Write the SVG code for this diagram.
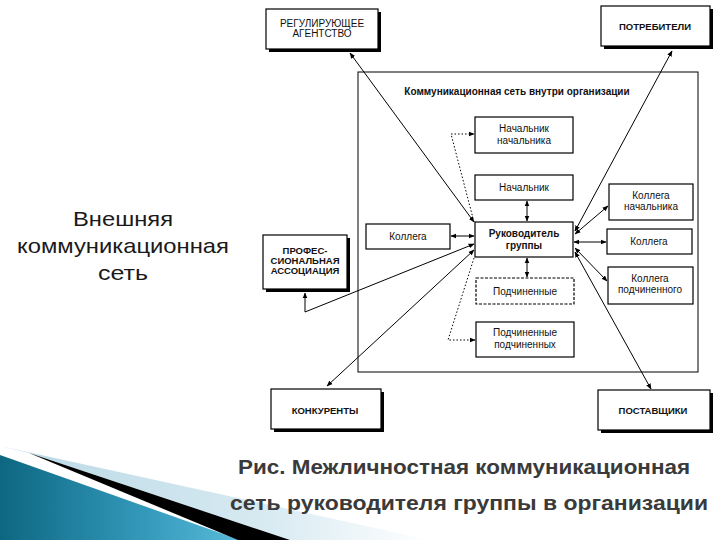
<svg xmlns="http://www.w3.org/2000/svg" width="720" height="540" viewBox="0 0 720 540">
<defs>
<marker id="ah" viewBox="0 0 10 10" refX="9" refY="5" markerWidth="6" markerHeight="6" markerUnits="userSpaceOnUse" orient="auto-start-reverse">
<path d="M0,1 L10,5 L0,9 z" fill="#000"/>
</marker>
<linearGradient id="teal" x1="0" y1="0" x2="1" y2="0">
<stop offset="0" stop-color="#0d6781"/>
<stop offset="0.6" stop-color="#3399bb"/>
<stop offset="1" stop-color="#58bbd9"/>
</linearGradient>
<linearGradient id="pale" x1="0" y1="0" x2="1" y2="0">
<stop offset="0" stop-color="#b9d9e6"/>
<stop offset="0.6" stop-color="#d6e9f1"/>
<stop offset="1" stop-color="#ffffff"/>
</linearGradient>
</defs>
<style>
.box{fill:#fff;stroke:#000;stroke-width:1.2}
.sh{fill:#000}
.t{font-family:"Liberation Sans",Arial,sans-serif;font-size:10px;fill:#111;text-anchor:middle}
.caps{font-size:9.5px;font-weight:bold}
.b{font-weight:bold}
.c{fill:none;stroke:#000;stroke-width:1}
.d{stroke-dasharray:1.5 2}
.big{font-family:"Liberation Sans",Arial,sans-serif;fill:#1a1a1a;text-anchor:middle}
.cap{font-family:"Liberation Sans",Arial,sans-serif;font-weight:bold;fill:#3a3a3a;text-anchor:middle}
</style>
<rect width="720" height="540" fill="#fff"/>

<g id="decoration">
<polygon points="0,446 29,453 290,540 430,540" fill="url(#pale)"/>
<polygon points="0,455 240,540 0,540" fill="url(#teal)"/>
<polygon points="29,453 290,540 238,540" fill="#000"/>
</g>

<g id="frame">
<rect x="358" y="72" width="340" height="300" fill="none" stroke="#000" stroke-width="1"/>
<text class="t b" x="517" y="95" font-size="9.5">Коммуникационная сеть внутри организации</text>
</g>

<g id="regulator">
<rect class="sh" x="269" y="12" width="112" height="40"/>
<rect class="box" x="266" y="9" width="112" height="40"/>
<text class="t" x="322" y="27" font-size="9.5">РЕГУЛИРУЮЩЕЕ</text>
<text class="t" x="322" y="37" font-size="9.5">АГЕНТСТВО</text>
</g>
<g id="consumers">
<rect class="sh" x="604" y="9" width="109" height="40"/>
<rect class="box" x="601" y="6" width="109" height="40"/>
<text class="t caps" x="655" y="30">ПОТРЕБИТЕЛИ</text>
</g>
<g id="association">
<rect class="sh" x="266" y="238" width="84" height="54"/>
<rect class="box" x="263" y="235" width="84" height="54"/>
<text class="t caps" x="305" y="254">ПРОФЕС-</text>
<text class="t caps" x="305" y="264">СИОНАЛЬНАЯ</text>
<text class="t caps" x="305" y="274">АССОЦИАЦИЯ</text>
</g>
<g id="competitors">
<rect class="sh" x="274" y="392" width="110" height="40"/>
<rect class="box" x="271" y="389" width="110" height="40"/>
<text class="t caps" x="325" y="414">КОНКУРЕНТЫ</text>
</g>
<g id="suppliers">
<rect class="sh" x="601" y="393" width="112" height="40"/>
<rect class="box" x="598" y="390" width="112" height="40"/>
<text class="t caps" x="653" y="414">ПОСТАВЩИКИ</text>
</g>

<g id="boss-boss">
<rect class="box" x="475" y="117" width="98" height="36"/>
<text class="t" x="524" y="132">Начальник</text>
<text class="t" x="524" y="144">начальника</text>
</g>
<g id="boss">
<rect class="box" x="475" y="175" width="98" height="25"/>
<text class="t" x="524" y="191">Начальник</text>
</g>
<g id="leader">
<rect class="box" x="475" y="222" width="98" height="35"/>
<text class="t b" x="524" y="237">Руководитель</text>
<text class="t b" x="524" y="249">группы</text>
</g>
<g id="subordinates">
<rect class="box" x="476" y="278" width="98" height="26" stroke-dasharray="3 1.5"/>
<text class="t" x="525" y="295">Подчиненные</text>
</g>
<g id="sub-subordinates">
<rect class="box" x="476" y="322" width="98" height="35"/>
<text class="t" x="525" y="336">Подчиненные</text>
<text class="t" x="525" y="348">подчиненных</text>
</g>
<g id="colleague-left">
<rect class="box" x="366" y="224" width="84" height="25"/>
<text class="t" x="408" y="240">Коллега</text>
</g>
<g id="colleague-boss">
<rect class="box" x="609" y="184" width="84" height="36"/>
<text class="t" x="651" y="199">Коллега</text>
<text class="t" x="651" y="210">начальника</text>
</g>
<g id="colleague-right">
<rect class="box" x="607" y="229" width="85" height="25"/>
<text class="t" x="649" y="245">Коллега</text>
</g>
<g id="colleague-sub">
<rect class="box" x="608" y="267" width="85" height="37"/>
<text class="t" x="650" y="282">Коллега</text>
<text class="t" x="650" y="293">подчиненного</text>
</g>

<g id="connectors">
<path class="c" d="M350,53 L474,222" marker-start="url(#ah)" marker-end="url(#ah)"/>
<path class="c" d="M672,51 L575,231" marker-start="url(#ah)" marker-end="url(#ah)"/>
<path class="c" d="M305,293 L305,312 L474,244" marker-start="url(#ah)" marker-end="url(#ah)"/>
<path class="c" d="M474,250 L327,386" marker-start="url(#ah)" marker-end="url(#ah)"/>
<path class="c" d="M575,252 L651,389" marker-start="url(#ah)" marker-end="url(#ah)"/>
<path class="c" d="M451,236 L474,236" marker-start="url(#ah)" marker-end="url(#ah)"/>
<path class="c" d="M527,201 L527,221" marker-start="url(#ah)" marker-end="url(#ah)"/>
<path class="c" d="M527,258 L527,277" marker-start="url(#ah)" marker-end="url(#ah)"/>
<path class="c" d="M575,234 L608,206" marker-start="url(#ah)" marker-end="url(#ah)"/>
<path class="c" d="M574,242 L606,242" marker-start="url(#ah)" marker-end="url(#ah)"/>
<path class="c" d="M575,248 L607,281" marker-start="url(#ah)" marker-end="url(#ah)"/>
<path class="c d" d="M474,222 L451,134 L474,134" marker-end="url(#ah)"/>
<path class="c d" d="M474,258 L448,340 L475,340" marker-end="url(#ah)"/>
</g>

<g id="labels">
<text class="big" x="123" y="226" font-size="21" textLength="100" lengthAdjust="spacingAndGlyphs">Внешняя</text>
<text class="big" x="123" y="253" font-size="21" textLength="212" lengthAdjust="spacingAndGlyphs">коммуникационная</text>
<text class="big" x="123" y="280" font-size="21" textLength="50" lengthAdjust="spacingAndGlyphs">сеть</text>
<text class="cap" x="464" y="474" font-size="20" textLength="452" lengthAdjust="spacingAndGlyphs">Рис. Межличностная коммуникационная</text>
<text class="cap" x="469" y="510" font-size="20" textLength="478" lengthAdjust="spacingAndGlyphs">сеть руководителя группы в организации</text>
</g>
</svg>
